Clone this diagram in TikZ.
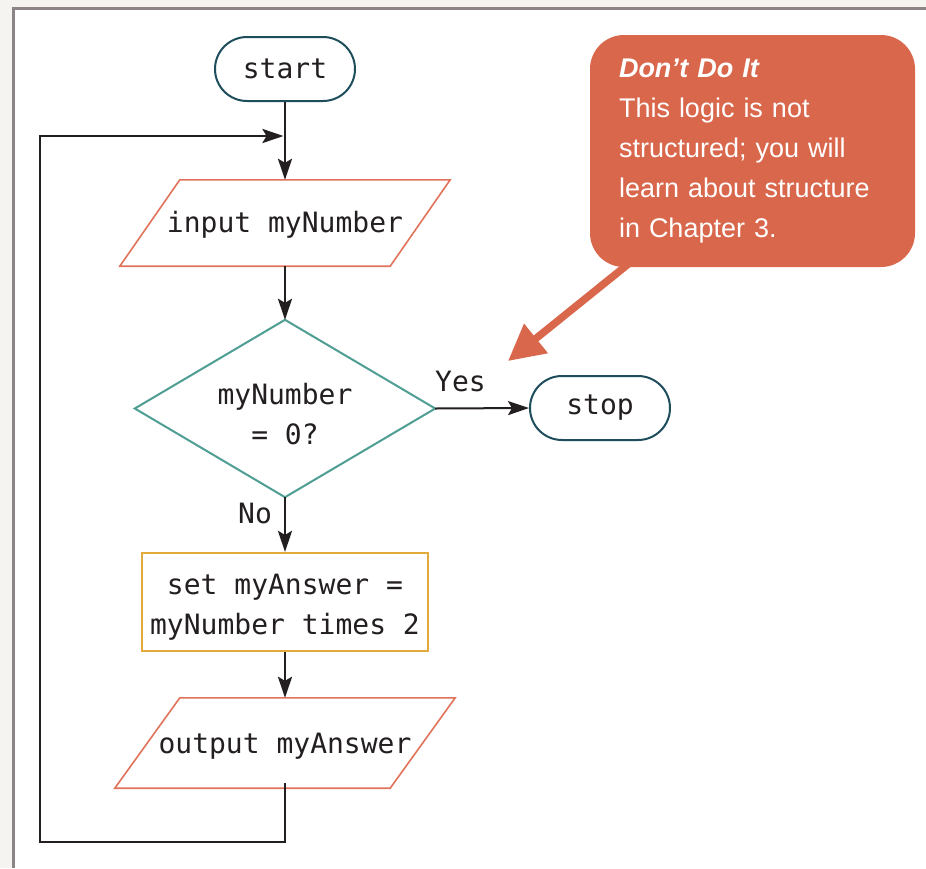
\documentclass[tikz,border=0pt]{standalone}
\usepackage{fontspec}
\setmainfont{Liberation Sans}
\setmonofont{DejaVu Sans Mono}
\usetikzlibrary{arrows.meta,calc}
\definecolor{bgout}{HTML}{F6F4F1}
\definecolor{framegray}{HTML}{8C8486}
\definecolor{termc}{HTML}{1E4D5C}
\definecolor{ioc}{HTML}{E0735A}
\definecolor{decc}{HTML}{4E9E94}
\definecolor{procc}{HTML}{E2A93B}
\definecolor{notec}{HTML}{D9674C}
\definecolor{txt}{HTML}{231F20}
\begin{document}
\begin{tikzpicture}[x=1pt,y=-1pt,
  every node/.style={text=txt},
  codefont/.style={font=\ttfamily\fontsize{28}{40}\selectfont},
  term/.style={codefont,draw=termc,line width=2pt,rounded corners=32pt,minimum width=140pt,minimum height=64pt,inner sep=0pt},
  iobox/.style={codefont,minimum height=86pt,inner sep=0pt},
  iopoly/.style={draw=ioc,line width=1.6pt},
  decbox/.style={codefont,align=center,minimum width=300pt,minimum height=177pt,inner sep=0pt},
  decpoly/.style={draw=decc,line width=2pt},
  procbox/.style={codefont,align=center,draw=procc,line width=2.2pt,minimum width=286pt,minimum height=98pt,inner sep=0pt},
  flow/.style={draw=txt,line width=2.7pt,-{Stealth[length=21pt,width=14pt,inset=4pt]}},
  lbl/.style={codefont,inner sep=0pt,anchor=base west},
  notebox/.style={fill=notec,rounded corners=34pt,minimum width=325pt,minimum height=232pt,text width=267pt,inner xsep=29pt,align=left,text=white,font=\fontsize{27}{40}\selectfont},
  notearrow/.style={draw=notec,line width=7.5pt,-{Triangle[length=36pt,width=36pt]}}
]
\useasboundingbox (0,0) rectangle (926,868);
\fill[bgout] (0,0) rectangle (926,868);
\fill[white] (13,8) rectangle (926,868);
\draw[framegray,line width=3pt] (13.5,868) -- (13.5,8) -- (926,8);

% nodes
\node[term] (start) at (285,69) {start};
\node[iobox,minimum width=270pt] (in) at (285,223) {\rule{0pt}{25pt}input myNumber};
\draw[iopoly] ($(in.north west)+(30,0)$) -- ($(in.north east)+(30,0)$) -- ($(in.south east)+(-30,0)$) -- ($(in.south west)+(-30,0)$) -- cycle;
\node[decbox] (dec) at (285,408.5) {\rule{0pt}{33pt}myNumber\\= 0?};
\draw[decpoly] (dec.north) -- (dec.east) -- (dec.south) -- (dec.west) -- cycle;
\node[term] (stop) at (600,408) {stop};
\node[procbox] (proc) at (285,602) {\rule{0pt}{31pt}set myAnswer =\\myNumber times 2};
\node[iobox,minimum width=275pt,minimum height=90pt] (out) at (285,743) {\rule{0pt}{26pt}output myAnswer};
\draw[iopoly] ($(out.north west)+(32.5,0)$) -- ($(out.north east)+(32.5,0)$) -- ($(out.south east)+(-32.5,0)$) -- ($(out.south west)+(-32.5,0)$) -- cycle;

% labels
\node[lbl] (yes) at (435,391) {Yes};
\node[lbl] (no) at (238,523) {No};

% connectors
\draw[flow] (start.south) -- (in.north);
\draw[flow] (in.south) -- (dec.north);
\draw[flow,line width=2pt] (dec.east) -- (stop.west);
\draw[flow] (dec.south) -- (proc.north);
\draw[flow] (proc.south) -- (out.north);
\coordinate (loopstart) at ($(out.south)+(0,-5)$);
\coordinate (loopbl) at (40,842);
\coordinate (looptl) at (40,136);
\coordinate (loopend) at (283.5,136);
\draw[flow,line join=miter] (loopstart) |- (loopbl) -- (looptl) -- (loopend);

% callout
\node[notebox] (note) at (752.5,151) {\textbf{\textit{Don’t Do It}}\\This logic is not\\structured; you will\\learn about structure\\in Chapter 3.};
\coordinate (notefrom) at ($(note.south west)+(42,-6)$);
\coordinate (notetip) at (508,361);
\draw[notearrow] (notefrom) -- (notetip);
\end{tikzpicture}
\end{document}
